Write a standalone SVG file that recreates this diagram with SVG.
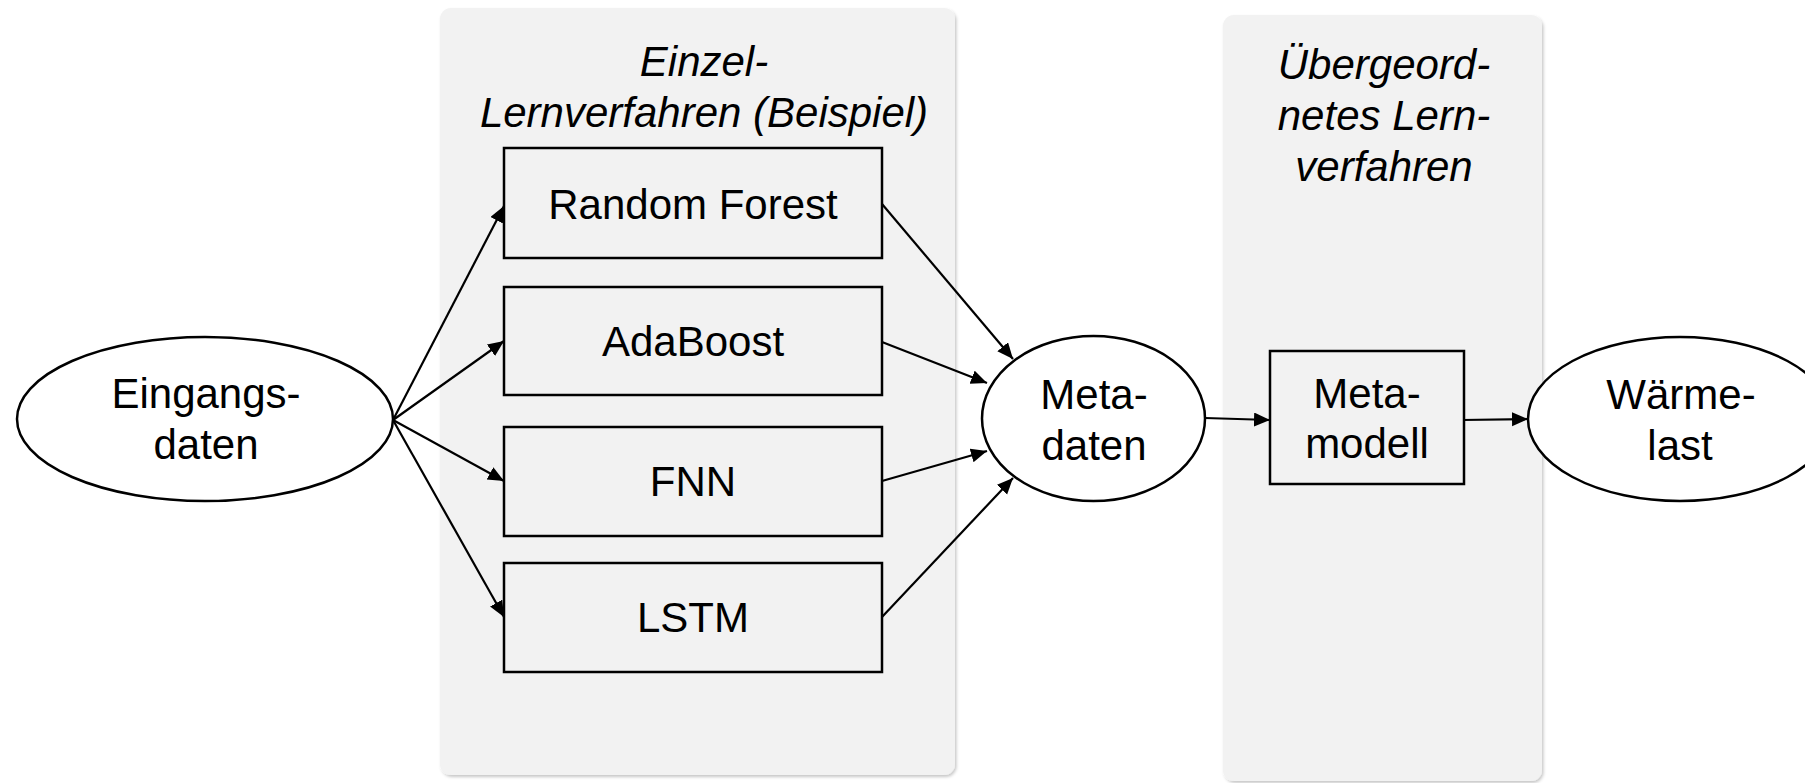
<svg xmlns="http://www.w3.org/2000/svg" width="1805" height="783" viewBox="0 0 1805 783">
  <style>
    .panel { fill: #f2f2f2; stroke: none; filter: url(#shadow); }
    .box { fill: #f2f2f2; stroke: #000; stroke-width: 2.5; }
    .oval { fill: #ffffff; stroke: #000; stroke-width: 2.5; }
    .label { font-family: "Liberation Sans", Arial, sans-serif; font-size: 42px; fill: #000; text-anchor: middle; }
    .title { font-family: "Liberation Sans", Arial, sans-serif; font-size: 42px; font-style: italic; fill: #000; text-anchor: middle; }
    .edge { fill: none; stroke: #000; stroke-width: 2.2; marker-end: url(#arrow); }
  </style>
  <defs>
    <marker id="arrow" markerUnits="userSpaceOnUse" markerWidth="17" markerHeight="15" refX="16" refY="7" orient="auto">
      <path d="M0,0 L16,7 L0,14 z" fill="#000"/>
    </marker>
    <filter id="shadow" x="-5%" y="-5%" width="110%" height="110%">
      <feDropShadow dx="1.5" dy="2" stdDeviation="1.5" flood-color="#000" flood-opacity="0.22"/>
    </filter>
  </defs>

  <rect width="1805" height="783" fill="#ffffff"/>

  <!-- base learner panel -->
  <g id="panel-einzel">
    <rect class="panel" x="440" y="8" width="515" height="767" rx="11"/>
    <text class="title" x="704" y="76">Einzel-</text>
    <text class="title" x="704" y="127">Lernverfahren (Beispiel)</text>
  </g>

  <!-- meta learner panel -->
  <g id="panel-meta">
    <rect class="panel" x="1223" y="15" width="319" height="766" rx="11"/>
    <text class="title" x="1384" y="79">Übergeord-</text>
    <text class="title" x="1384" y="130">netes Lern-</text>
    <text class="title" x="1384" y="181">verfahren</text>
  </g>

  <g id="connectors">
    <line class="edge" x1="393" y1="420" x2="504" y2="206"/>
    <line class="edge" x1="393" y1="420" x2="504" y2="341"/>
    <line class="edge" x1="393" y1="420" x2="504" y2="481"/>
    <line class="edge" x1="393" y1="420" x2="504" y2="617"/>
    <line class="edge" x1="882" y1="204" x2="1013" y2="359"/>
    <line class="edge" x1="882" y1="342" x2="987" y2="383"/>
    <line class="edge" x1="882" y1="481" x2="987" y2="451"/>
    <line class="edge" x1="882" y1="617" x2="1013" y2="478"/>
    <line class="edge" x1="1205" y1="418" x2="1270" y2="420"/>
    <line class="edge" x1="1462" y1="420" x2="1528" y2="419"/>
  </g>

  <g id="eingangsdaten">
    <ellipse class="oval" cx="205" cy="419" rx="188" ry="82"/>
    <text class="label" x="206" y="408">Eingangs-</text>
    <text class="label" x="206" y="459">daten</text>
  </g>

  <g id="random-forest">
    <rect class="box" x="504" y="148" width="378" height="110"/>
    <text class="label" x="693" y="219">Random Forest</text>
  </g>

  <g id="adaboost">
    <rect class="box" x="504" y="287" width="378" height="108"/>
    <text class="label" x="693" y="356">AdaBoost</text>
  </g>

  <g id="fnn">
    <rect class="box" x="504" y="427" width="378" height="109"/>
    <text class="label" x="693" y="496">FNN</text>
  </g>

  <g id="lstm">
    <rect class="box" x="504" y="563" width="378" height="109"/>
    <text class="label" x="693" y="632">LSTM</text>
  </g>

  <g id="metadaten">
    <ellipse class="oval" cx="1093.5" cy="418.5" rx="111.5" ry="82.5"/>
    <text class="label" x="1094" y="409">Meta-</text>
    <text class="label" x="1094" y="460">daten</text>
  </g>

  <g id="metamodell">
    <rect class="box" x="1270" y="351" width="194" height="133"/>
    <text class="label" x="1367" y="408">Meta-</text>
    <text class="label" x="1367" y="458">modell</text>
  </g>

  <g id="waermelast">
    <ellipse class="oval" cx="1680" cy="419" rx="152" ry="82"/>
    <text class="label" x="1681" y="409">Wärme-</text>
    <text class="label" x="1680" y="460">last</text>
  </g>
</svg>
